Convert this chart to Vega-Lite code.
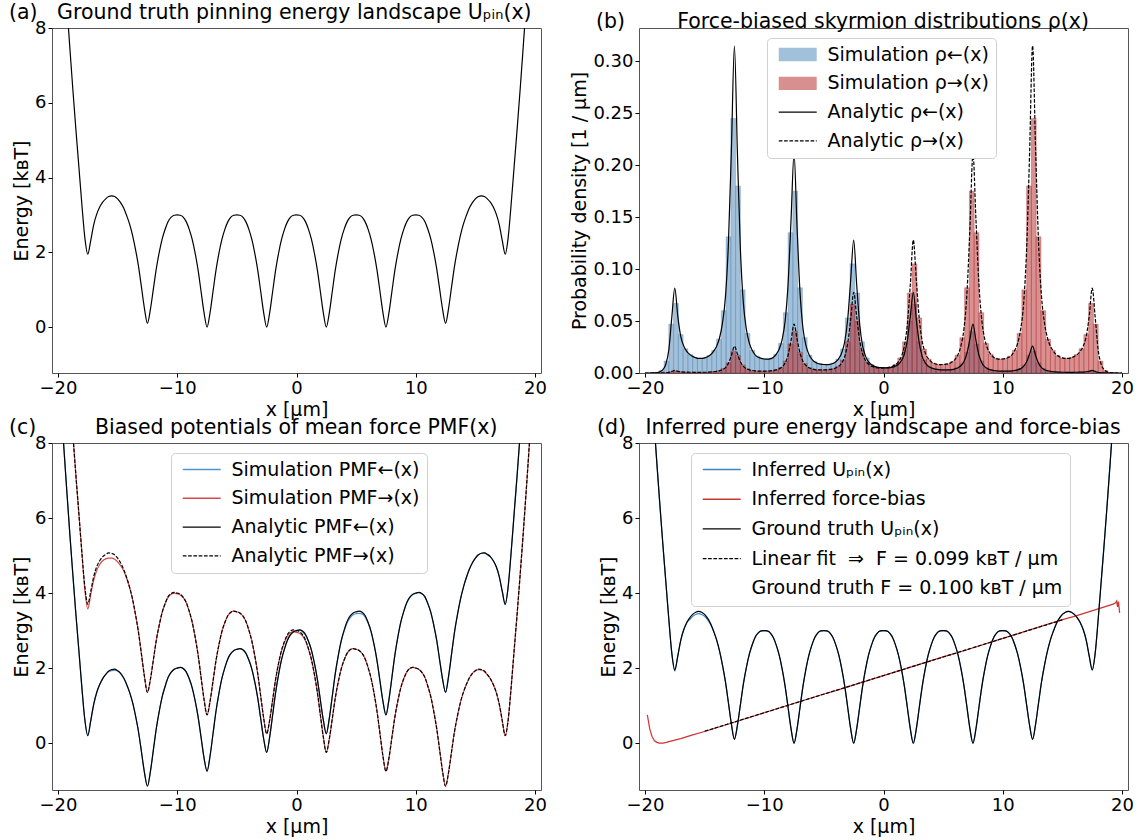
{
"$schema": "https://vega.github.io/schema/vega-lite/v6.json",
"background": "white",
"padding": {"left": 8, "top": 2, "right": 2, "bottom": 2},
"columns": 2,
"spacing": {"row": 70, "column": 98},
"bounds": "flush",
"resolve": {"scale": {"color": "independent", "x": "independent", "y": "independent"}, "legend": {"color": "independent"}},
"datasets": {
"g": [
{"x":-20,"u":12.2,"l":10.2,"r":14.2,"pl":0,"pr":0,"ls":10.2,"rs":14.2,"ui":12.2},
{"x":-19.75,"u":11,"l":9.03,"r":12.98,"pl":0,"pr":0,"ls":9.03,"rs":12.98,"ui":11},
{"x":-19.5,"u":9.8,"l":7.85,"r":11.75,"pl":0,"pr":0,"ls":7.85,"rs":11.75,"ui":9.8},
{"x":-19.25,"u":8.6,"l":6.68,"r":10.53,"pl":0.0001,"pr":0,"ls":6.68,"rs":10.53,"ui":8.6},
{"x":-19,"u":7.45,"l":5.55,"r":9.35,"pl":0.0004,"pr":0,"ls":5.55,"rs":9.35,"ui":7.45},
{"x":-18.75,"u":6.35,"l":4.48,"r":8.23,"pl":0.0011,"pr":0,"ls":4.48,"rs":8.23,"ui":6.35},
{"x":-18.5,"u":5.3,"l":3.45,"r":7.15,"pl":0.0032,"pr":0.0001,"ls":3.45,"rs":7.15,"ui":5.3},
{"x":-18.25,"u":4.3,"l":2.48,"r":6.13,"pl":0.0084,"pr":0.0002,"ls":2.48,"rs":6.13,"ui":4.3},
{"x":-18,"u":3.3,"l":1.5,"r":5.1,"pl":0.0222,"pr":0.0006,"ls":1.5,"rs":5.1,"ui":3.3},
{"x":-17.75,"u":2.4,"l":0.63,"r":4.18,"pl":0.0534,"pr":0.0015,"ls":0.63,"rs":4.1,"ui":2.4},
{"x":-17.5,"u":1.95,"l":0.2,"r":3.7,"pl":0.0816,"pr":0.0025,"ls":0.2,"rs":3.58,"ui":1.92},
{"x":-17.25,"u":2.32,"l":0.6,"r":4.05,"pl":0.055,"pr":0.0017,"ls":0.6,"rs":3.96,"ui":2.32},
{"x":-17,"u":2.74,"l":1.04,"r":4.44,"pl":0.0352,"pr":0.0012,"ls":1.04,"rs":4.35,"ui":2.74},
{"x":-16.75,"u":3.02,"l":1.35,"r":4.7,"pl":0.026,"pr":0.0009,"ls":1.35,"rs":4.6,"ui":3.02},
{"x":-16.5,"u":3.21,"l":1.56,"r":4.86,"pl":0.0209,"pr":0.0008,"ls":1.56,"rs":4.76,"ui":3.21},
{"x":-16.25,"u":3.34,"l":1.72,"r":4.97,"pl":0.0179,"pr":0.0007,"ls":1.72,"rs":4.86,"ui":3.29},
{"x":-16,"u":3.43,"l":1.83,"r":5.03,"pl":0.016,"pr":0.0007,"ls":1.83,"rs":4.91,"ui":3.38},
{"x":-15.75,"u":3.49,"l":1.92,"r":5.07,"pl":0.0147,"pr":0.0006,"ls":1.9,"rs":4.93,"ui":3.43},
{"x":-15.5,"u":3.51,"l":1.96,"r":5.06,"pl":0.014,"pr":0.0006,"ls":1.93,"rs":4.93,"ui":3.45},
{"x":-15.25,"u":3.49,"l":1.97,"r":5.02,"pl":0.014,"pr":0.0007,"ls":1.94,"rs":4.9,"ui":3.43},
{"x":-15,"u":3.43,"l":1.93,"r":4.93,"pl":0.0145,"pr":0.0007,"ls":1.93,"rs":4.83,"ui":3.38},
{"x":-14.75,"u":3.33,"l":1.86,"r":4.81,"pl":0.0156,"pr":0.0008,"ls":1.86,"rs":4.73,"ui":3.29},
{"x":-14.5,"u":3.19,"l":1.74,"r":4.64,"pl":0.0175,"pr":0.001,"ls":1.74,"rs":4.6,"ui":3.16},
{"x":-14.25,"u":2.99,"l":1.57,"r":4.42,"pl":0.0208,"pr":0.0012,"ls":1.57,"rs":4.4,"ui":2.99},
{"x":-14,"u":2.76,"l":1.36,"r":4.16,"pl":0.0256,"pr":0.0016,"ls":1.36,"rs":4.16,"ui":2.76},
{"x":-13.75,"u":2.46,"l":1.09,"r":3.84,"pl":0.0337,"pr":0.0022,"ls":1.09,"rs":3.84,"ui":2.46},
{"x":-13.5,"u":2.08,"l":0.73,"r":3.43,"pl":0.048,"pr":0.0032,"ls":0.73,"rs":3.43,"ui":2.08},
{"x":-13.25,"u":1.63,"l":0.31,"r":2.96,"pl":0.0735,"pr":0.0052,"ls":0.31,"rs":2.96,"ui":1.63},
{"x":-13,"u":1.07,"l":-0.23,"r":2.37,"pl":0.1255,"pr":0.0093,"ls":-0.23,"rs":2.37,"ui":1.07},
{"x":-12.75,"u":0.5,"l":-0.78,"r":1.78,"pl":0.2164,"pr":0.0169,"ls":-0.78,"rs":1.78,"ui":0.5},
{"x":-12.5,"u":0.1,"l":-1.15,"r":1.35,"pl":0.3149,"pr":0.0258,"ls":-1.15,"rs":1.35,"ui":0.1},
{"x":-12.25,"u":0.47,"l":-0.76,"r":1.7,"pl":0.2121,"pr":0.0183,"ls":-0.76,"rs":1.7,"ui":0.47},
{"x":-12,"u":1.02,"l":-0.18,"r":2.22,"pl":0.1194,"pr":0.0108,"ls":-0.18,"rs":2.22,"ui":1.02},
{"x":-11.75,"u":1.57,"l":0.4,"r":2.75,"pl":0.0672,"pr":0.0064,"ls":0.4,"rs":2.75,"ui":1.57},
{"x":-11.5,"u":2.01,"l":0.86,"r":3.16,"pl":0.0422,"pr":0.0042,"ls":0.86,"rs":3.16,"ui":2.01},
{"x":-11.25,"u":2.37,"l":1.25,"r":3.5,"pl":0.0287,"pr":0.003,"ls":1.25,"rs":3.5,"ui":2.37},
{"x":-11,"u":2.63,"l":1.53,"r":3.73,"pl":0.0216,"pr":0.0024,"ls":1.53,"rs":3.73,"ui":2.63},
{"x":-10.75,"u":2.83,"l":1.76,"r":3.91,"pl":0.0172,"pr":0.002,"ls":1.76,"rs":3.9,"ui":2.83},
{"x":-10.5,"u":2.94,"l":1.89,"r":3.99,"pl":0.0151,"pr":0.0018,"ls":1.89,"rs":3.97,"ui":2.94},
{"x":-10.25,"u":2.99,"l":1.97,"r":4.02,"pl":0.014,"pr":0.0018,"ls":1.97,"rs":4.0,"ui":2.99},
{"x":-10,"u":3,"l":2,"r":4,"pl":0.0135,"pr":0.0018,"ls":2,"rs":3.98,"ui":3},
{"x":-9.75,"u":2.99,"l":2.02,"r":3.97,"pl":0.0133,"pr":0.0019,"ls":2.02,"rs":3.95,"ui":2.99},
{"x":-9.5,"u":2.94,"l":1.99,"r":3.89,"pl":0.0136,"pr":0.002,"ls":1.99,"rs":3.88,"ui":2.94},
{"x":-9.25,"u":2.82,"l":1.9,"r":3.75,"pl":0.015,"pr":0.0024,"ls":1.9,"rs":3.75,"ui":2.82},
{"x":-9,"u":2.62,"l":1.72,"r":3.52,"pl":0.0179,"pr":0.003,"ls":1.72,"rs":3.52,"ui":2.62},
{"x":-8.75,"u":2.35,"l":1.48,"r":3.23,"pl":0.0228,"pr":0.004,"ls":1.48,"rs":3.23,"ui":2.35},
{"x":-8.5,"u":1.98,"l":1.13,"r":2.83,"pl":0.0322,"pr":0.0059,"ls":1.13,"rs":2.83,"ui":1.98},
{"x":-8.25,"u":1.52,"l":0.7,"r":2.35,"pl":0.0498,"pr":0.0096,"ls":0.7,"rs":2.35,"ui":1.52},
{"x":-8,"u":0.95,"l":0.15,"r":1.75,"pl":0.0858,"pr":0.0173,"ls":0.15,"rs":1.75,"ui":0.95},
{"x":-7.75,"u":0.38,"l":-0.4,"r":1.16,"pl":0.148,"pr":0.0314,"ls":-0.4,"rs":1.16,"ui":0.38},
{"x":-7.5,"u":0,"l":-0.75,"r":0.75,"pl":0.2111,"pr":0.0471,"ls":-0.75,"rs":0.75,"ui":0},
{"x":-7.25,"u":0.38,"l":-0.35,"r":1.11,"pl":0.1408,"pr":0.033,"ls":-0.35,"rs":1.11,"ui":0.38},
{"x":-7,"u":0.95,"l":0.25,"r":1.65,"pl":0.0776,"pr":0.0191,"ls":0.25,"rs":1.65,"ui":0.95},
{"x":-6.75,"u":1.52,"l":0.85,"r":2.2,"pl":0.0428,"pr":0.0111,"ls":0.85,"rs":2.2,"ui":1.52},
{"x":-6.5,"u":1.98,"l":1.33,"r":2.63,"pl":0.0264,"pr":0.0072,"ls":1.33,"rs":2.63,"ui":1.98},
{"x":-6.25,"u":2.35,"l":1.73,"r":2.98,"pl":0.0178,"pr":0.0051,"ls":1.73,"rs":2.98,"ui":2.35},
{"x":-6,"u":2.62,"l":2.02,"r":3.22,"pl":0.0132,"pr":0.004,"ls":2.02,"rs":3.22,"ui":2.62},
{"x":-5.75,"u":2.82,"l":2.25,"r":3.4,"pl":0.0106,"pr":0.0033,"ls":2.25,"rs":3.4,"ui":2.82},
{"x":-5.5,"u":2.94,"l":2.39,"r":3.49,"pl":0.0091,"pr":0.003,"ls":2.39,"rs":3.49,"ui":2.94},
{"x":-5.25,"u":2.99,"l":2.47,"r":3.52,"pl":0.0085,"pr":0.003,"ls":2.47,"rs":3.52,"ui":2.99},
{"x":-5,"u":3,"l":2.5,"r":3.5,"pl":0.0082,"pr":0.003,"ls":2.5,"rs":3.5,"ui":3},
{"x":-4.75,"u":2.99,"l":2.52,"r":3.47,"pl":0.0081,"pr":0.0031,"ls":2.52,"rs":3.47,"ui":2.99},
{"x":-4.5,"u":2.94,"l":2.49,"r":3.39,"pl":0.0083,"pr":0.0034,"ls":2.49,"rs":3.39,"ui":2.94},
{"x":-4.25,"u":2.82,"l":2.4,"r":3.25,"pl":0.0091,"pr":0.0039,"ls":2.4,"rs":3.25,"ui":2.82},
{"x":-4,"u":2.62,"l":2.22,"r":3.02,"pl":0.0108,"pr":0.0049,"ls":2.22,"rs":3.02,"ui":2.62},
{"x":-3.75,"u":2.35,"l":1.98,"r":2.73,"pl":0.0138,"pr":0.0065,"ls":1.98,"rs":2.73,"ui":2.35},
{"x":-3.5,"u":1.98,"l":1.63,"r":2.33,"pl":0.0195,"pr":0.0097,"ls":1.63,"rs":2.33,"ui":1.98},
{"x":-3.25,"u":1.52,"l":1.2,"r":1.85,"pl":0.0302,"pr":0.0158,"ls":1.2,"rs":1.85,"ui":1.52},
{"x":-3,"u":0.95,"l":0.65,"r":1.25,"pl":0.052,"pr":0.0286,"ls":0.65,"rs":1.25,"ui":0.95},
{"x":-2.75,"u":0.38,"l":0.11,"r":0.66,"pl":0.0898,"pr":0.0518,"ls":0.11,"rs":0.66,"ui":0.38},
{"x":-2.5,"u":0,"l":-0.25,"r":0.25,"pl":0.128,"pr":0.0776,"ls":-0.25,"rs":0.25,"ui":0},
{"x":-2.25,"u":0.38,"l":0.16,"r":0.61,"pl":0.0854,"pr":0.0544,"ls":0.16,"rs":0.61,"ui":0.38},
{"x":-2,"u":0.95,"l":0.75,"r":1.15,"pl":0.0471,"pr":0.0316,"ls":0.75,"rs":1.15,"ui":0.95},
{"x":-1.75,"u":1.52,"l":1.35,"r":1.7,"pl":0.026,"pr":0.0183,"ls":1.35,"rs":1.7,"ui":1.52},
{"x":-1.5,"u":1.98,"l":1.83,"r":2.13,"pl":0.016,"pr":0.0118,"ls":1.83,"rs":2.13,"ui":1.98},
{"x":-1.25,"u":2.35,"l":2.23,"r":2.48,"pl":0.0108,"pr":0.0084,"ls":2.23,"rs":2.46,"ui":2.35},
{"x":-1,"u":2.62,"l":2.52,"r":2.72,"pl":0.008,"pr":0.0066,"ls":2.52,"rs":2.69,"ui":2.62},
{"x":-0.75,"u":2.82,"l":2.75,"r":2.9,"pl":0.0064,"pr":0.0055,"ls":2.75,"rs":2.86,"ui":2.82},
{"x":-0.5,"u":2.94,"l":2.89,"r":2.99,"pl":0.0055,"pr":0.005,"ls":2.89,"rs":2.94,"ui":2.94},
{"x":-0.25,"u":2.99,"l":2.97,"r":3.02,"pl":0.0051,"pr":0.0049,"ls":2.97,"rs":2.97,"ui":2.99},
{"x":0,"u":3,"l":3,"r":3,"pl":0.005,"pr":0.005,"ls":3,"rs":2.95,"ui":3},
{"x":0.25,"u":2.99,"l":3.02,"r":2.97,"pl":0.0049,"pr":0.0051,"ls":3.01,"rs":2.93,"ui":2.99},
{"x":0.5,"u":2.94,"l":2.99,"r":2.89,"pl":0.005,"pr":0.0055,"ls":2.97,"rs":2.86,"ui":2.94},
{"x":0.75,"u":2.82,"l":2.9,"r":2.75,"pl":0.0055,"pr":0.0064,"ls":2.88,"rs":2.73,"ui":2.82},
{"x":1,"u":2.62,"l":2.72,"r":2.52,"pl":0.0066,"pr":0.008,"ls":2.71,"rs":2.51,"ui":2.62},
{"x":1.25,"u":2.35,"l":2.48,"r":2.23,"pl":0.0084,"pr":0.0108,"ls":2.48,"rs":2.23,"ui":2.35},
{"x":1.5,"u":1.98,"l":2.13,"r":1.83,"pl":0.0118,"pr":0.016,"ls":2.13,"rs":1.83,"ui":1.98},
{"x":1.75,"u":1.52,"l":1.7,"r":1.35,"pl":0.0183,"pr":0.026,"ls":1.7,"rs":1.35,"ui":1.52},
{"x":2,"u":0.95,"l":1.15,"r":0.75,"pl":0.0316,"pr":0.0471,"ls":1.15,"rs":0.75,"ui":0.95},
{"x":2.25,"u":0.38,"l":0.61,"r":0.16,"pl":0.0544,"pr":0.0854,"ls":0.61,"rs":0.16,"ui":0.38},
{"x":2.5,"u":0,"l":0.25,"r":-0.25,"pl":0.0776,"pr":0.128,"ls":0.25,"rs":-0.25,"ui":0},
{"x":2.75,"u":0.38,"l":0.66,"r":0.11,"pl":0.0518,"pr":0.0898,"ls":0.66,"rs":0.11,"ui":0.38},
{"x":3,"u":0.95,"l":1.25,"r":0.65,"pl":0.0286,"pr":0.052,"ls":1.25,"rs":0.65,"ui":0.95},
{"x":3.25,"u":1.52,"l":1.85,"r":1.2,"pl":0.0158,"pr":0.0302,"ls":1.85,"rs":1.2,"ui":1.52},
{"x":3.5,"u":1.98,"l":2.33,"r":1.63,"pl":0.0097,"pr":0.0195,"ls":2.32,"rs":1.63,"ui":1.98},
{"x":3.75,"u":2.35,"l":2.73,"r":1.98,"pl":0.0065,"pr":0.0138,"ls":2.71,"rs":1.98,"ui":2.35},
{"x":4,"u":2.62,"l":3.02,"r":2.22,"pl":0.0049,"pr":0.0108,"ls":2.99,"rs":2.22,"ui":2.62},
{"x":4.25,"u":2.82,"l":3.25,"r":2.4,"pl":0.0039,"pr":0.0091,"ls":3.21,"rs":2.4,"ui":2.82},
{"x":4.5,"u":2.94,"l":3.39,"r":2.49,"pl":0.0034,"pr":0.0083,"ls":3.34,"rs":2.49,"ui":2.94},
{"x":4.75,"u":2.99,"l":3.47,"r":2.52,"pl":0.0031,"pr":0.0081,"ls":3.42,"rs":2.52,"ui":2.99},
{"x":5,"u":3,"l":3.5,"r":2.5,"pl":0.003,"pr":0.0082,"ls":3.45,"rs":2.5,"ui":3},
{"x":5.25,"u":2.99,"l":3.52,"r":2.47,"pl":0.003,"pr":0.0085,"ls":3.46,"rs":2.47,"ui":2.99},
{"x":5.5,"u":2.94,"l":3.49,"r":2.39,"pl":0.003,"pr":0.0091,"ls":3.44,"rs":2.39,"ui":2.94},
{"x":5.75,"u":2.82,"l":3.4,"r":2.25,"pl":0.0033,"pr":0.0106,"ls":3.36,"rs":2.25,"ui":2.82},
{"x":6,"u":2.62,"l":3.22,"r":2.02,"pl":0.004,"pr":0.0132,"ls":3.2,"rs":2.02,"ui":2.62},
{"x":6.25,"u":2.35,"l":2.98,"r":1.73,"pl":0.0051,"pr":0.0178,"ls":2.97,"rs":1.73,"ui":2.35},
{"x":6.5,"u":1.98,"l":2.63,"r":1.33,"pl":0.0072,"pr":0.0264,"ls":2.63,"rs":1.33,"ui":1.98},
{"x":6.75,"u":1.52,"l":2.2,"r":0.85,"pl":0.0111,"pr":0.0428,"ls":2.2,"rs":0.85,"ui":1.52},
{"x":7,"u":0.95,"l":1.65,"r":0.25,"pl":0.0191,"pr":0.0776,"ls":1.65,"rs":0.25,"ui":0.95},
{"x":7.25,"u":0.38,"l":1.11,"r":-0.35,"pl":0.033,"pr":0.1408,"ls":1.11,"rs":-0.35,"ui":0.38},
{"x":7.5,"u":0,"l":0.75,"r":-0.75,"pl":0.0471,"pr":0.2111,"ls":0.75,"rs":-0.75,"ui":0},
{"x":7.75,"u":0.38,"l":1.16,"r":-0.4,"pl":0.0314,"pr":0.148,"ls":1.16,"rs":-0.4,"ui":0.38},
{"x":8,"u":0.95,"l":1.75,"r":0.15,"pl":0.0173,"pr":0.0858,"ls":1.75,"rs":0.15,"ui":0.95},
{"x":8.25,"u":1.52,"l":2.35,"r":0.7,"pl":0.0096,"pr":0.0498,"ls":2.35,"rs":0.7,"ui":1.52},
{"x":8.5,"u":1.98,"l":2.83,"r":1.13,"pl":0.0059,"pr":0.0322,"ls":2.83,"rs":1.13,"ui":1.98},
{"x":8.75,"u":2.35,"l":3.23,"r":1.48,"pl":0.004,"pr":0.0228,"ls":3.23,"rs":1.48,"ui":2.35},
{"x":9,"u":2.62,"l":3.52,"r":1.72,"pl":0.003,"pr":0.0179,"ls":3.52,"rs":1.72,"ui":2.62},
{"x":9.25,"u":2.82,"l":3.75,"r":1.9,"pl":0.0024,"pr":0.015,"ls":3.74,"rs":1.9,"ui":2.82},
{"x":9.5,"u":2.94,"l":3.89,"r":1.99,"pl":0.002,"pr":0.0136,"ls":3.88,"rs":1.99,"ui":2.94},
{"x":9.75,"u":2.99,"l":3.97,"r":2.02,"pl":0.0019,"pr":0.0133,"ls":3.96,"rs":2.02,"ui":2.99},
{"x":10,"u":3,"l":4,"r":2,"pl":0.0018,"pr":0.0135,"ls":3.99,"rs":2,"ui":3},
{"x":10.25,"u":2.99,"l":4.02,"r":1.97,"pl":0.0018,"pr":0.014,"ls":4.01,"rs":1.97,"ui":2.99},
{"x":10.5,"u":2.94,"l":3.99,"r":1.89,"pl":0.0018,"pr":0.0151,"ls":3.98,"rs":1.89,"ui":2.94},
{"x":10.75,"u":2.83,"l":3.91,"r":1.76,"pl":0.002,"pr":0.0172,"ls":3.9,"rs":1.76,"ui":2.83},
{"x":11,"u":2.63,"l":3.73,"r":1.53,"pl":0.0024,"pr":0.0216,"ls":3.73,"rs":1.53,"ui":2.63},
{"x":11.25,"u":2.37,"l":3.5,"r":1.25,"pl":0.003,"pr":0.0287,"ls":3.5,"rs":1.25,"ui":2.37},
{"x":11.5,"u":2.01,"l":3.16,"r":0.86,"pl":0.0042,"pr":0.0422,"ls":3.16,"rs":0.86,"ui":2.01},
{"x":11.75,"u":1.57,"l":2.75,"r":0.4,"pl":0.0064,"pr":0.0672,"ls":2.75,"rs":0.4,"ui":1.57},
{"x":12,"u":1.02,"l":2.22,"r":-0.18,"pl":0.0108,"pr":0.1194,"ls":2.22,"rs":-0.18,"ui":1.02},
{"x":12.25,"u":0.47,"l":1.7,"r":-0.76,"pl":0.0183,"pr":0.2121,"ls":1.7,"rs":-0.76,"ui":0.47},
{"x":12.5,"u":0.1,"l":1.35,"r":-1.15,"pl":0.0258,"pr":0.3149,"ls":1.35,"rs":-1.15,"ui":0.1},
{"x":12.75,"u":0.5,"l":1.78,"r":-0.78,"pl":0.0169,"pr":0.2164,"ls":1.78,"rs":-0.78,"ui":0.5},
{"x":13,"u":1.07,"l":2.37,"r":-0.23,"pl":0.0093,"pr":0.1255,"ls":2.37,"rs":-0.23,"ui":1.07},
{"x":13.25,"u":1.63,"l":2.96,"r":0.31,"pl":0.0052,"pr":0.0735,"ls":2.96,"rs":0.31,"ui":1.63},
{"x":13.5,"u":2.08,"l":3.43,"r":0.73,"pl":0.0032,"pr":0.048,"ls":3.43,"rs":0.73,"ui":2.08},
{"x":13.75,"u":2.46,"l":3.84,"r":1.09,"pl":0.0022,"pr":0.0337,"ls":3.84,"rs":1.09,"ui":2.46},
{"x":14,"u":2.76,"l":4.16,"r":1.36,"pl":0.0016,"pr":0.0256,"ls":4.16,"rs":1.36,"ui":2.76},
{"x":14.25,"u":2.99,"l":4.42,"r":1.57,"pl":0.0012,"pr":0.0208,"ls":4.42,"rs":1.57,"ui":2.99},
{"x":14.5,"u":3.19,"l":4.64,"r":1.74,"pl":0.001,"pr":0.0175,"ls":4.64,"rs":1.74,"ui":3.19},
{"x":14.75,"u":3.33,"l":4.81,"r":1.86,"pl":0.0008,"pr":0.0156,"ls":4.81,"rs":1.86,"ui":3.33},
{"x":15,"u":3.43,"l":4.93,"r":1.93,"pl":0.0007,"pr":0.0145,"ls":4.93,"rs":1.93,"ui":3.43},
{"x":15.25,"u":3.49,"l":5.02,"r":1.97,"pl":0.0007,"pr":0.014,"ls":5.02,"rs":1.96,"ui":3.49},
{"x":15.5,"u":3.51,"l":5.06,"r":1.96,"pl":0.0006,"pr":0.014,"ls":5.06,"rs":1.95,"ui":3.51},
{"x":15.75,"u":3.49,"l":5.07,"r":1.92,"pl":0.0006,"pr":0.0147,"ls":5.07,"rs":1.91,"ui":3.49},
{"x":16,"u":3.43,"l":5.03,"r":1.83,"pl":0.0007,"pr":0.016,"ls":5.03,"rs":1.82,"ui":3.43},
{"x":16.25,"u":3.34,"l":4.97,"r":1.72,"pl":0.0007,"pr":0.0179,"ls":4.97,"rs":1.72,"ui":3.34},
{"x":16.5,"u":3.21,"l":4.86,"r":1.56,"pl":0.0008,"pr":0.0209,"ls":4.86,"rs":1.56,"ui":3.21},
{"x":16.75,"u":3.02,"l":4.7,"r":1.35,"pl":0.0009,"pr":0.026,"ls":4.7,"rs":1.35,"ui":3.02},
{"x":17,"u":2.74,"l":4.44,"r":1.04,"pl":0.0012,"pr":0.0352,"ls":4.44,"rs":1.04,"ui":2.74},
{"x":17.25,"u":2.32,"l":4.05,"r":0.6,"pl":0.0017,"pr":0.055,"ls":4.05,"rs":0.6,"ui":2.32},
{"x":17.5,"u":1.95,"l":3.7,"r":0.2,"pl":0.0025,"pr":0.0816,"ls":3.7,"rs":0.2,"ui":1.95},
{"x":17.75,"u":2.4,"l":4.18,"r":0.63,"pl":0.0015,"pr":0.0534,"ls":4.18,"rs":0.63,"ui":2.4},
{"x":18,"u":3.3,"l":5.1,"r":1.5,"pl":0.0006,"pr":0.0222,"ls":5.1,"rs":1.5,"ui":3.3},
{"x":18.25,"u":4.3,"l":6.13,"r":2.48,"pl":0.0002,"pr":0.0084,"ls":6.13,"rs":2.48,"ui":4.3},
{"x":18.5,"u":5.3,"l":7.15,"r":3.45,"pl":0.0001,"pr":0.0032,"ls":7.15,"rs":3.45,"ui":5.3},
{"x":18.75,"u":6.35,"l":8.23,"r":4.48,"pl":0,"pr":0.0011,"ls":8.23,"rs":4.48,"ui":6.35},
{"x":19,"u":7.45,"l":9.35,"r":5.55,"pl":0,"pr":0.0004,"ls":9.35,"rs":5.55,"ui":7.45},
{"x":19.25,"u":8.6,"l":10.53,"r":6.68,"pl":0,"pr":0.0001,"ls":10.53,"rs":6.68,"ui":8.6},
{"x":19.5,"u":9.8,"l":11.75,"r":7.85,"pl":0,"pr":0,"ls":11.75,"rs":7.85,"ui":9.8},
{"x":19.75,"u":11,"l":12.98,"r":9.03,"pl":0,"pr":0,"ls":12.98,"rs":9.03,"ui":11},
{"x":20,"u":12.2,"l":14.2,"r":10.2,"pl":0,"pr":0,"ls":14.2,"rs":10.2,"ui":12.2}
],
"h": [
{"a":-19.6,"b":-19.2,"bl":0.0001,"br":0},
{"a":-19.2,"b":-18.8,"bl":0.0005,"br":0},
{"a":-18.8,"b":-18.4,"bl":0.0023,"br":0.0001},
{"a":-18.4,"b":-18.0,"bl":0.0115,"br":0.0003},
{"a":-18.0,"b":-17.6,"bl":0.047,"br":0.0012},
{"a":-17.6,"b":-17.2,"bl":0.067,"br":0.002},
{"a":-17.2,"b":-16.8,"bl":0.037,"br":0.0012},
{"a":-16.8,"b":-16.4,"bl":0.0233,"br":0.0008},
{"a":-16.4,"b":-16.0,"bl":0.0177,"br":0.0007},
{"a":-16.0,"b":-15.6,"bl":0.015,"br":0.0007},
{"a":-15.6,"b":-15.2,"bl":0.0141,"br":0.0007},
{"a":-15.2,"b":-14.8,"bl":0.0145,"br":0.0007},
{"a":-14.8,"b":-14.4,"bl":0.0168,"br":0.0009},
{"a":-14.4,"b":-14.0,"bl":0.0218,"br":0.0013},
{"a":-14.0,"b":-13.6,"bl":0.0325,"br":0.0021},
{"a":-13.6,"b":-13.2,"bl":0.06,"br":0.0043},
{"a":-13.2,"b":-12.8,"bl":0.131,"br":0.0098},
{"a":-12.8,"b":-12.4,"bl":0.245,"br":0.021},
{"a":-12.4,"b":-12.0,"bl":0.18,"br":0.017},
{"a":-12.0,"b":-11.6,"bl":0.08,"br":0.0077},
{"a":-11.6,"b":-11.2,"bl":0.038,"br":0.004},
{"a":-11.2,"b":-10.8,"bl":0.0219,"br":0.0025},
{"a":-10.8,"b":-10.4,"bl":0.0162,"br":0.0019},
{"a":-10.4,"b":-10.0,"bl":0.014,"br":0.0018},
{"a":-10.0,"b":-9.6,"bl":0.0134,"br":0.0018},
{"a":-9.6,"b":-9.2,"bl":0.0142,"br":0.0022},
{"a":-9.2,"b":-8.8,"bl":0.018,"br":0.003},
{"a":-8.8,"b":-8.4,"bl":0.0285,"br":0.0053},
{"a":-8.4,"b":-8.0,"bl":0.058,"br":0.0115},
{"a":-8.0,"b":-7.6,"bl":0.135,"br":0.028},
{"a":-7.6,"b":-7.2,"bl":0.175,"br":0.04},
{"a":-7.2,"b":-6.8,"bl":0.082,"br":0.02},
{"a":-6.8,"b":-6.4,"bl":0.034,"br":0.009},
{"a":-6.4,"b":-6.0,"bl":0.0172,"br":0.005},
{"a":-6.0,"b":-5.6,"bl":0.011,"br":0.0035},
{"a":-5.6,"b":-5.2,"bl":0.0089,"br":0.003},
{"a":-5.2,"b":-4.8,"bl":0.0082,"br":0.003},
{"a":-4.8,"b":-4.4,"bl":0.0083,"br":0.0033},
{"a":-4.4,"b":-4.0,"bl":0.0095,"br":0.0041},
{"a":-4.0,"b":-3.6,"bl":0.0134,"br":0.0064},
{"a":-3.6,"b":-3.2,"bl":0.023,"br":0.0125},
{"a":-3.2,"b":-2.8,"bl":0.053,"br":0.03},
{"a":-2.8,"b":-2.4,"bl":0.105,"br":0.066},
{"a":-2.4,"b":-2.0,"bl":0.077,"br":0.05},
{"a":-2.0,"b":-1.6,"bl":0.03,"br":0.022},
{"a":-1.6,"b":-1.2,"bl":0.0145,"br":0.0106},
{"a":-1.2,"b":-0.8,"bl":0.0082,"br":0.0067},
{"a":-0.8,"b":-0.4,"bl":0.006,"br":0.0053},
{"a":-0.4,"b":0.0,"bl":0.0051,"br":0.0049},
{"a":0.0,"b":0.4,"bl":0.0049,"br":0.0051},
{"a":0.4,"b":0.8,"bl":0.0053,"br":0.006},
{"a":0.8,"b":1.2,"bl":0.0067,"br":0.0082},
{"a":1.2,"b":1.6,"bl":0.0106,"br":0.0145},
{"a":1.6,"b":2.0,"bl":0.022,"br":0.03},
{"a":2.0,"b":2.4,"bl":0.05,"br":0.077},
{"a":2.4,"b":2.8,"bl":0.066,"br":0.105},
{"a":2.8,"b":3.2,"bl":0.03,"br":0.053},
{"a":3.2,"b":3.6,"bl":0.0125,"br":0.023},
{"a":3.6,"b":4.0,"bl":0.0064,"br":0.0134},
{"a":4.0,"b":4.4,"bl":0.0041,"br":0.0095},
{"a":4.4,"b":4.8,"bl":0.0033,"br":0.0083},
{"a":4.8,"b":5.2,"bl":0.003,"br":0.0082},
{"a":5.2,"b":5.6,"bl":0.003,"br":0.0089},
{"a":5.6,"b":6.0,"bl":0.0035,"br":0.011},
{"a":6.0,"b":6.4,"bl":0.005,"br":0.0172},
{"a":6.4,"b":6.8,"bl":0.009,"br":0.034},
{"a":6.8,"b":7.2,"bl":0.02,"br":0.082},
{"a":7.2,"b":7.6,"bl":0.04,"br":0.175},
{"a":7.6,"b":8.0,"bl":0.028,"br":0.135},
{"a":8.0,"b":8.4,"bl":0.0115,"br":0.058},
{"a":8.4,"b":8.8,"bl":0.0053,"br":0.0285},
{"a":8.8,"b":9.2,"bl":0.003,"br":0.018},
{"a":9.2,"b":9.6,"bl":0.0022,"br":0.0142},
{"a":9.6,"b":10.0,"bl":0.0018,"br":0.0134},
{"a":10.0,"b":10.4,"bl":0.0018,"br":0.014},
{"a":10.4,"b":10.8,"bl":0.0019,"br":0.0162},
{"a":10.8,"b":11.2,"bl":0.0025,"br":0.0219},
{"a":11.2,"b":11.6,"bl":0.004,"br":0.038},
{"a":11.6,"b":12.0,"bl":0.0077,"br":0.08},
{"a":12.0,"b":12.4,"bl":0.017,"br":0.18},
{"a":12.4,"b":12.8,"bl":0.021,"br":0.245},
{"a":12.8,"b":13.2,"bl":0.0098,"br":0.131},
{"a":13.2,"b":13.6,"bl":0.0043,"br":0.06},
{"a":13.6,"b":14.0,"bl":0.0021,"br":0.0325},
{"a":14.0,"b":14.4,"bl":0.0013,"br":0.0218},
{"a":14.4,"b":14.8,"bl":0.0009,"br":0.0168},
{"a":14.8,"b":15.2,"bl":0.0007,"br":0.0145},
{"a":15.2,"b":15.6,"bl":0.0007,"br":0.0141},
{"a":15.6,"b":16.0,"bl":0.0007,"br":0.015},
{"a":16.0,"b":16.4,"bl":0.0007,"br":0.0177},
{"a":16.4,"b":16.8,"bl":0.0008,"br":0.0233},
{"a":16.8,"b":17.2,"bl":0.0012,"br":0.037},
{"a":17.2,"b":17.6,"bl":0.002,"br":0.067},
{"a":17.6,"b":18.0,"bl":0.0012,"br":0.047},
{"a":18.0,"b":18.4,"bl":0.0003,"br":0.0115},
{"a":18.4,"b":18.8,"bl":0.0001,"br":0.0023},
{"a":18.8,"b":19.2,"bl":0,"br":0.0005},
{"a":19.2,"b":19.6,"bl":0,"br":0.0001}
],
"fb": [
{"x":-19.8,"v":0.75},{"x":-19.6,"v":0.38},{"x":-19.4,"v":0.17},{"x":-19.2,"v":0.06},{"x":-19.0,"v":0.02},
{"x":-18.8,"v":0.0},{"x":-18.5,"v":0.0},{"x":-18.2,"v":0.02},{"x":-18.0,"v":0.04},{"x":-17.5,"v":0.08},
{"x":-17,"v":0.12},{"x":-16,"v":0.22},{"x":-15,"v":0.31},{"x":-14,"v":0.41},{"x":-13,"v":0.51},
{"x":-12,"v":0.61},{"x":-11,"v":0.71},{"x":-10,"v":0.81},{"x":-9,"v":0.91},{"x":-8,"v":1.01},
{"x":-7,"v":1.11},{"x":-6,"v":1.21},{"x":-5,"v":1.31},{"x":-4,"v":1.4},{"x":-3,"v":1.5},
{"x":-2,"v":1.6},{"x":-1,"v":1.7},{"x":0,"v":1.8},{"x":1,"v":1.9},{"x":2,"v":2.0},
{"x":3,"v":2.1},{"x":4,"v":2.2},{"x":5,"v":2.3},{"x":6,"v":2.39},{"x":7,"v":2.49},
{"x":8,"v":2.59},{"x":9,"v":2.69},{"x":10,"v":2.79},{"x":11,"v":2.89},{"x":12,"v":2.99},
{"x":13,"v":3.09},{"x":14,"v":3.19},{"x":15,"v":3.29},{"x":16,"v":3.38},{"x":17,"v":3.48},
{"x":18,"v":3.58},{"x":19,"v":3.68},{"x":19.3,"v":3.71},{"x":19.45,"v":3.74},{"x":19.55,"v":3.79},
{"x":19.62,"v":3.63},{"x":19.7,"v":3.77},{"x":19.8,"v":3.47}
],
"lf": [
{"x":-15,"v":0.315},{"x":15,"v":3.285}
]
},
"concat": [
{
"width": 489, "height": 345,
"title": {"text": "(a)\u00a0\u00a0\u00a0Ground truth pinning energy landscape Uₚᵢₙ(x)", "dx": -43},
"data": {"name": "g"},
"mark": {"type": "line", "color": "#000", "strokeWidth": 1.2, "clip": true, "interpolate": "monotone"},
"encoding": {
"x": {"field": "x", "type": "quantitative", "scale": {"domain": [-20.5, 20.5], "nice": false, "zero": false}, "axis": {"values": [-20, -10, 0, 10, 20], "format": "d"}, "title": "x [μm]"},
"y": {"field": "u", "type": "quantitative", "scale": {"domain": [-1.23, 8], "nice": false, "zero": false}, "axis": {"values": [0, 2, 4, 6, 8], "format": "d"}, "title": "Energy [kʙT]"}
}
},
{
"width": 489, "height": 345,
"title": {"text": "(b)\u00a0\u00a0\u00a0\u00a0\u00a0\u00a0\u00a0\u00a0Force-biased skyrmion distributions ρ(x)", "dx": -43},
"layer": [
{
"data": {"name": "h"},
"mark": {"type": "bar", "fillOpacity": 0.5, "stroke": "#4682b4", "strokeWidth": 0.6, "strokeOpacity": 0.55, "clip": true},
"encoding": {
"x": {"field": "a", "type": "quantitative", "scale": {"domain": [-20.5, 20.5], "nice": false, "zero": false}, "axis": {"values": [-20, -10, 0, 10, 20], "format": "d"}, "title": "x [μm]"},
"x2": {"field": "b"},
"y": {"field": "bl", "type": "quantitative", "scale": {"domain": [0, 0.332], "nice": false}, "axis": {"values": [0, 0.05, 0.1, 0.15, 0.2, 0.25, 0.3], "format": ".2f"}, "title": "Probability density [1 / μm]"},
"y2": {"datum": 0},
"color": {"datum": "Simulation ρ←(x)", "type": "nominal",
 "scale": {"domain": ["Simulation ρ←(x)", "Simulation ρ→(x)", "Analytic ρ←(x)", "Analytic ρ→(x)"], "range": ["#4682b4", "#b22222", "#000000", "#000000"]},
 "legend": {"title": null, "orient": "none", "legendX": 128, "legendY": 10, "rowPadding": 8.8, "symbolType": "stroke",
  "encode": {"symbols": {"update": {
   "shape": {"signal": "indexof(datum.value,'Simulation')===0 ? 'M-1,-1.4H7V1.4H-1Z' : 'M-1,0H7'"},
   "fill": {"signal": "datum.value==='Simulation ρ←(x)' ? '#a2c0da' : (datum.value==='Simulation ρ→(x)' ? '#d89090' : 'transparent')"},
   "stroke": {"signal": "indexof(datum.value,'Simulation')===0 ? 'transparent' : '#000000'"},
   "strokeDash": {"signal": "datum.value==='Analytic ρ→(x)' ? [3.7,1.6] : [1,0]"},
   "strokeWidth": {"value": 1.3},
   "strokeOpacity": {"signal": "indexof(datum.value,'Simulation')===0 ? 0 : 1"},
   "opacity": {"signal": "indexof(datum.value,'Simulation')===0 ? 0.5 : 1"},
   "fillOpacity": {"value": 1}
  }}}}
}
}
},
{
"data": {"name": "h"},
"mark": {"type": "bar", "fillOpacity": 0.5, "stroke": "#b22222", "strokeWidth": 0.6, "strokeOpacity": 0.55, "clip": true},
"encoding": {
"x": {"field": "a", "type": "quantitative"},
"x2": {"field": "b"},
"y": {"field": "br", "type": "quantitative"},
"y2": {"datum": 0},
"color": {"datum": "Simulation ρ→(x)", "type": "nominal",
 "legend": {"title": null, "orient": "none", "legendX": 128, "legendY": 10, "rowPadding": 8.8, "symbolType": "stroke",
  "encode": {"symbols": {"update": {
   "shape": {"signal": "indexof(datum.value,'Simulation')===0 ? 'M-1,-1.4H7V1.4H-1Z' : 'M-1,0H7'"},
   "fill": {"signal": "datum.value==='Simulation ρ←(x)' ? '#a2c0da' : (datum.value==='Simulation ρ→(x)' ? '#d89090' : 'transparent')"},
   "stroke": {"signal": "indexof(datum.value,'Simulation')===0 ? 'transparent' : '#000000'"},
   "strokeDash": {"signal": "datum.value==='Analytic ρ→(x)' ? [3.7,1.6] : [1,0]"},
   "strokeWidth": {"value": 1.3},
   "strokeOpacity": {"signal": "indexof(datum.value,'Simulation')===0 ? 0 : 1"},
   "opacity": {"signal": "indexof(datum.value,'Simulation')===0 ? 0.5 : 1"},
   "fillOpacity": {"value": 1}
  }}}}}
}
},
{
"data": {"name": "g"},
"mark": {"type": "line", "strokeWidth": 1.2, "clip": true, "interpolate": "monotone"},
"encoding": {
"x": {"field": "x", "type": "quantitative"},
"y": {"field": "pl", "type": "quantitative"},
"color": {"datum": "Analytic ρ←(x)", "type": "nominal",
 "legend": {"title": null, "orient": "none", "legendX": 128, "legendY": 10, "rowPadding": 8.8, "symbolType": "stroke",
  "encode": {"symbols": {"update": {
   "shape": {"signal": "indexof(datum.value,'Simulation')===0 ? 'M-1,-1.4H7V1.4H-1Z' : 'M-1,0H7'"},
   "fill": {"signal": "datum.value==='Simulation ρ←(x)' ? '#a2c0da' : (datum.value==='Simulation ρ→(x)' ? '#d89090' : 'transparent')"},
   "stroke": {"signal": "indexof(datum.value,'Simulation')===0 ? 'transparent' : '#000000'"},
   "strokeDash": {"signal": "datum.value==='Analytic ρ→(x)' ? [3.7,1.6] : [1,0]"},
   "strokeWidth": {"value": 1.3},
   "strokeOpacity": {"signal": "indexof(datum.value,'Simulation')===0 ? 0 : 1"},
   "opacity": {"signal": "indexof(datum.value,'Simulation')===0 ? 0.5 : 1"},
   "fillOpacity": {"value": 1}
  }}}}}
}
},
{
"data": {"name": "g"},
"mark": {"type": "line", "strokeWidth": 1.2, "strokeDash": [3.7, 1.6], "clip": true, "interpolate": "monotone"},
"encoding": {
"x": {"field": "x", "type": "quantitative"},
"y": {"field": "pr", "type": "quantitative"},
"color": {"datum": "Analytic ρ→(x)", "type": "nominal",
 "legend": {"title": null, "orient": "none", "legendX": 128, "legendY": 10, "rowPadding": 8.8, "symbolType": "stroke",
  "encode": {"symbols": {"update": {
   "shape": {"signal": "indexof(datum.value,'Simulation')===0 ? 'M-1,-1.4H7V1.4H-1Z' : 'M-1,0H7'"},
   "fill": {"signal": "datum.value==='Simulation ρ←(x)' ? '#a2c0da' : (datum.value==='Simulation ρ→(x)' ? '#d89090' : 'transparent')"},
   "stroke": {"signal": "indexof(datum.value,'Simulation')===0 ? 'transparent' : '#000000'"},
   "strokeDash": {"signal": "datum.value==='Analytic ρ→(x)' ? [3.7,1.6] : [1,0]"},
   "strokeWidth": {"value": 1.3},
   "strokeOpacity": {"signal": "indexof(datum.value,'Simulation')===0 ? 0 : 1"},
   "opacity": {"signal": "indexof(datum.value,'Simulation')===0 ? 0.5 : 1"},
   "fillOpacity": {"value": 1}
  }}}}}
}
}
]
},
{
"width": 489, "height": 347,
"title": {"text": "(c)\u00a0\u00a0\u00a0\u00a0\u00a0\u00a0\u00a0\u00a0\u00a0Biased potentials of mean force PMF(x)", "dx": -43},
"data": {"name": "g"},
"layer": [
{
"mark": {"type": "line", "strokeWidth": 1.2, "clip": true, "interpolate": "monotone"},
"encoding": {
"x": {"field": "x", "type": "quantitative", "scale": {"domain": [-20.5, 20.5], "nice": false, "zero": false}, "axis": {"values": [-20, -10, 0, 10, 20], "format": "d"}, "title": "x [μm]"},
"y": {"field": "ls", "type": "quantitative", "scale": {"domain": [-1.25, 8], "nice": false, "zero": false}, "axis": {"values": [0, 2, 4, 6, 8], "format": "d"}, "title": "Energy [kʙT]"},
"color": {"datum": "Simulation PMF←(x)", "type": "nominal",
 "scale": {"domain": ["Simulation PMF←(x)", "Simulation PMF→(x)", "Analytic PMF←(x)", "Analytic PMF→(x)"], "range": ["#4c93d6", "#d44a4a", "#000000", "#000000"]},
 "legend": {"title": null, "orient": "none", "legendX": 119, "legendY": 10, "rowPadding": 8.8,
  "encode": {"symbols": {"update": {
   "shape": {"value": "M-1,0H7"},
   "fill": {"value": "transparent"},
   "stroke": {"signal": "datum.value==='Simulation PMF←(x)' ? '#4c93d6' : (datum.value==='Simulation PMF→(x)' ? '#d44a4a' : '#000000')"},
   "strokeDash": {"signal": "datum.value==='Analytic PMF→(x)' ? [3.7,1.6] : [1,0]"},
   "strokeWidth": {"value": 1.4},
   "opacity": {"value": 1}
  }}}}
}
}
},
{
"mark": {"type": "line", "strokeWidth": 1.2, "clip": true, "interpolate": "monotone"},
"encoding": {
"x": {"field": "x", "type": "quantitative"},
"y": {"field": "rs", "type": "quantitative"},
"color": {"datum": "Simulation PMF→(x)", "type": "nominal"}
}
},
{
"mark": {"type": "line", "strokeWidth": 1.2, "clip": true, "interpolate": "monotone"},
"encoding": {
"x": {"field": "x", "type": "quantitative"},
"y": {"field": "l", "type": "quantitative"},
"color": {"datum": "Analytic PMF←(x)", "type": "nominal"}
}
},
{
"mark": {"type": "line", "strokeWidth": 1.2, "strokeDash": [3.7, 1.6], "clip": true, "interpolate": "monotone"},
"encoding": {
"x": {"field": "x", "type": "quantitative"},
"y": {"field": "r", "type": "quantitative"},
"color": {"datum": "Analytic PMF→(x)", "type": "nominal"}
}
}
]
},
{
"width": 489, "height": 347,
"title": {"text": "(d)\u00a0\u00a0\u00a0Inferred pure energy landscape and force-bias", "dx": -42},
"layer": [
{
"data": {"name": "g"},
"mark": {"type": "line", "strokeWidth": 1.2, "clip": true, "interpolate": "monotone"},
"encoding": {
"x": {"field": "x", "type": "quantitative", "scale": {"domain": [-20.5, 20.5], "nice": false, "zero": false}, "axis": {"values": [-20, -10, 0, 10, 20], "format": "d"}, "title": "x [μm]"},
"y": {"field": "ui", "type": "quantitative", "scale": {"domain": [-1.25, 8], "nice": false, "zero": false}, "axis": {"values": [0, 2, 4, 6, 8], "format": "d"}, "title": "Energy [kʙT]"},
"color": {"datum": "Inferred Uₚᵢₙ(x)", "type": "nominal",
 "scale": {"domain": ["Inferred Uₚᵢₙ(x)", "Inferred force-bias", "Ground truth Uₚᵢₙ(x)", "Linear fit\u00a0\u00a0⇒\u00a0\u00a0F = 0.099 kʙT / μm", "Ground truth F = 0.100 kʙT / μm"], "range": ["#3a84c8", "#cc3333", "#000000", "#000000", "transparent"]},
 "legend": {"title": null, "orient": "none", "legendX": 52, "legendY": 10, "rowPadding": 9.7,
  "encode": {"symbols": {"update": {
   "shape": {"value": "M-1,0H7"},
   "fill": {"value": "transparent"},
   "stroke": {"signal": "datum.value==='Inferred Uₚᵢₙ(x)' ? '#3a84c8' : (datum.value==='Inferred force-bias' ? '#cc3333' : (indexof(datum.value,'Ground truth F')===0 ? 'transparent' : '#000000'))"},
   "strokeDash": {"signal": "indexof(datum.value,'Linear')===0 ? [3.7,1.6] : [1,0]"},
   "strokeWidth": {"value": 1.4},
   "opacity": {"value": 1}
  }}}}
}
}
},
{
"data": {"name": "fb"},
"mark": {"type": "line", "strokeWidth": 1.2, "clip": true},
"encoding": {
"x": {"field": "x", "type": "quantitative"},
"y": {"field": "v", "type": "quantitative"},
"color": {"datum": "Inferred force-bias", "type": "nominal"}
}
},
{
"data": {"name": "g"},
"mark": {"type": "line", "strokeWidth": 1.2, "clip": true, "interpolate": "monotone"},
"encoding": {
"x": {"field": "x", "type": "quantitative"},
"y": {"field": "u", "type": "quantitative"},
"color": {"datum": "Ground truth Uₚᵢₙ(x)", "type": "nominal"}
}
},
{
"data": {"name": "lf"},
"mark": {"type": "line", "strokeWidth": 1.2, "strokeDash": [3.7, 1.6], "clip": true},
"encoding": {
"x": {"field": "x", "type": "quantitative"},
"y": {"field": "v", "type": "quantitative"},
"color": {"datum": "Linear fit\u00a0\u00a0⇒\u00a0\u00a0F = 0.099 kʙT / μm", "type": "nominal"}
}
}
]
}
],
"config": {
"font": "DejaVu Sans",
"view": {"stroke": "#555555", "strokeWidth": 1},
"axis": {"domain": false, "grid": false, "ticks": true, "tickSize": 4, "tickColor": "#000000", "tickWidth": 1,
 "labelFont": "DejaVu Sans", "labelFontSize": 18, "labelColor": "#000000", "labelPadding": 2, "labelFlush": false, "labelOverlap": false,
 "titleFont": "DejaVu Sans", "titleFontSize": 19, "titleFontWeight": "normal", "titleColor": "#000000", "titlePadding": 3},
"title": {"font": "DejaVu Sans", "fontSize": 20.5, "fontWeight": "normal", "color": "#000000", "anchor": "start", "frame": "group", "baseline": "alphabetic", "offset": -4},
"legend": {"labelFont": "DejaVu Sans", "labelFontSize": 19, "labelColor": "#000000", "labelLimit": 500, "labelOffset": 34.5,
 "symbolSize": 90, "padding": 7, "fillColor": "white", "strokeColor": "#d0d0d0", "cornerRadius": 4}
}
}
